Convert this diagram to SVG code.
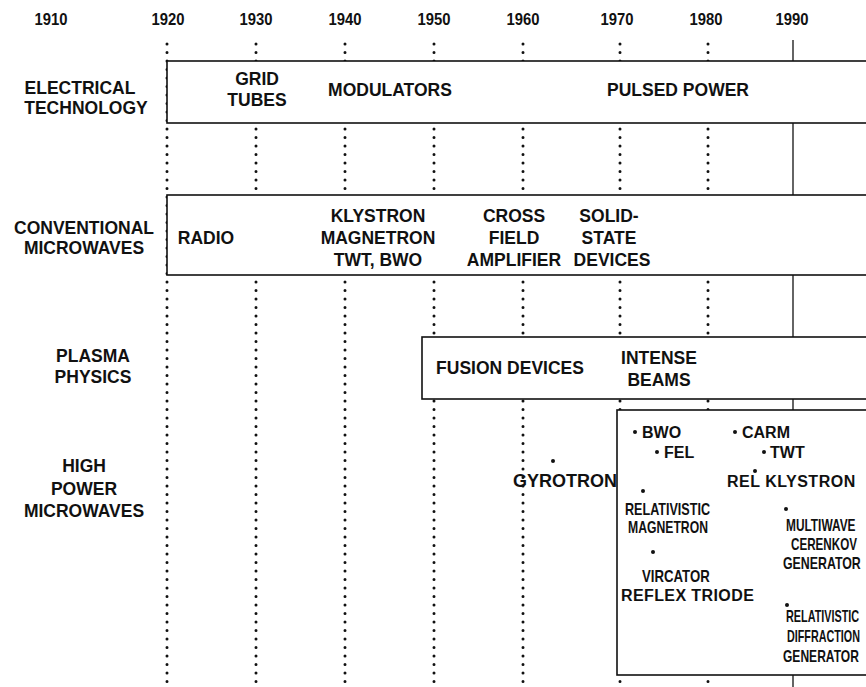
<svg xmlns="http://www.w3.org/2000/svg" width="866" height="687" viewBox="0 0 866 687">
<style>
text{font-family:"Liberation Sans",Arial,sans-serif;font-weight:bold;fill:#111;}
.yr{font-size:17px;text-anchor:middle;}
.lbl{font-size:17.5px;text-anchor:middle;}
.in{font-size:17.5px;text-anchor:middle;}
.hp{font-size:16px;text-anchor:start;}
.hl{font-size:16px;text-anchor:start;}
.dot{stroke:#111;stroke-width:3;stroke-linecap:round;stroke-dasharray:0 8.5;fill:none;}
.solid{stroke:#111;stroke-width:1.3;fill:none;}
.box{fill:#fff;stroke:#111;stroke-width:1.6;}
.b{fill:#111;}
</style>
<rect width="866" height="687" fill="#fff"/>
<g id="axis">
<text class="yr" x="51" y="25" textLength="33" lengthAdjust="spacingAndGlyphs">1910</text>
<text class="yr" x="168" y="25" textLength="33" lengthAdjust="spacingAndGlyphs">1920</text>
<text class="yr" x="256" y="25" textLength="33" lengthAdjust="spacingAndGlyphs">1930</text>
<text class="yr" x="345" y="25" textLength="33" lengthAdjust="spacingAndGlyphs">1940</text>
<text class="yr" x="434" y="25" textLength="33" lengthAdjust="spacingAndGlyphs">1950</text>
<text class="yr" x="523" y="25" textLength="33" lengthAdjust="spacingAndGlyphs">1960</text>
<text class="yr" x="617" y="25" textLength="33" lengthAdjust="spacingAndGlyphs">1970</text>
<text class="yr" x="706" y="25" textLength="33" lengthAdjust="spacingAndGlyphs">1980</text>
<text class="yr" x="792" y="25" textLength="33" lengthAdjust="spacingAndGlyphs">1990</text>
</g>
<g id="connectors">
<line class="dot" x1="167" y1="44" x2="167" y2="687"/>
<line class="dot" x1="256" y1="44" x2="256" y2="687"/>
<line class="dot" x1="345" y1="44" x2="345" y2="687"/>
<line class="dot" x1="434" y1="44" x2="434" y2="687"/>
<line class="dot" x1="523" y1="44" x2="523" y2="687"/>
<line class="dot" x1="620" y1="44" x2="620" y2="687"/>
<line class="dot" x1="708" y1="44" x2="708" y2="687"/>
<line class="solid" x1="793" y1="40" x2="793" y2="687"/>
</g>
<g id="electrical-technology">
<text class="lbl" x="80" y="94">ELECTRICAL</text>
<text class="lbl" x="86" y="114">TECHNOLOGY</text>
<rect class="box" x="167" y="61" width="710" height="62"/>
<text class="in" x="257" y="85">GRID</text>
<text class="in" x="257" y="106">TUBES</text>
<text class="in" x="390" y="96">MODULATORS</text>
<text class="in" x="678" y="96">PULSED POWER</text>
</g>
<g id="conventional-microwaves">
<text class="lbl" x="84" y="234">CONVENTIONAL</text>
<text class="lbl" x="84" y="254">MICROWAVES</text>
<rect class="box" x="167" y="195" width="710" height="80"/>
<text class="in" x="206" y="244">RADIO</text>
<text class="in" x="378" y="222">KLYSTRON</text>
<text class="in" x="378" y="244">MAGNETRON</text>
<text class="in" x="378" y="266">TWT, BWO</text>
<text class="in" x="514" y="222">CROSS</text>
<text class="in" x="514" y="244">FIELD</text>
<text class="in" x="514" y="266">AMPLIFIER</text>
<text class="in" x="609" y="222">SOLID-</text>
<text class="in" x="609" y="244">STATE</text>
<text class="in" x="612" y="266">DEVICES</text>
</g>
<g id="plasma-physics">
<text class="lbl" x="93" y="362">PLASMA</text>
<text class="lbl" x="93" y="383">PHYSICS</text>
<rect class="box" x="422" y="337" width="460" height="62"/>
<text class="in" x="510" y="374">FUSION DEVICES</text>
<text class="in" x="659" y="364">INTENSE</text>
<text class="in" x="659" y="386">BEAMS</text>
</g>
<g id="high-power-microwaves">
<text class="lbl" x="84" y="472">HIGH</text>
<text class="lbl" x="84" y="495">POWER</text>
<text class="lbl" x="84" y="517">MICROWAVES</text>
<circle class="b" cx="553" cy="461" r="2"/>
<text class="in" x="565" y="487" style="font-size:18px">GYROTRON</text>
<rect class="box" x="617" y="410" width="260" height="265"/>
<circle class="b" cx="635" cy="432" r="2"/>
<text class="hl" x="642" y="438">BWO</text>
<circle class="b" cx="735" cy="432" r="2"/>
<text class="hl" x="742" y="438">CARM</text>
<circle class="b" cx="657" cy="452" r="2"/>
<text class="hl" x="664" y="458">FEL</text>
<circle class="b" cx="764" cy="452" r="2"/>
<text class="hl" x="770" y="458">TWT</text>
<circle class="b" cx="755" cy="471" r="2"/>
<text class="hp" x="727" y="487" style="letter-spacing:0.5px">REL KLYSTRON</text>
<circle class="b" cx="643" cy="491" r="2"/>
<text class="hp" transform="translate(625,515) scale(0.787,1)">RELATIVISTIC</text>
<text class="hp" transform="translate(628,533) scale(0.763,1)">MAGNETRON</text>
<circle class="b" cx="786" cy="509" r="2"/>
<text class="hp" transform="translate(786,531) scale(0.743,1)">MULTIWAVE</text>
<text class="hp" transform="translate(791,550) scale(0.728,1)">CERENKOV</text>
<text class="hp" transform="translate(783,569) scale(0.773,1)">GENERATOR</text>
<circle class="b" cx="653" cy="552" r="2"/>
<text class="hp" transform="translate(642,582) scale(0.825,1)">VIRCATOR</text>
<text class="hp" x="621" y="601" style="letter-spacing:0.4px">REFLEX TRIODE</text>
<circle class="b" cx="787" cy="605" r="2"/>
<text class="hp" transform="translate(786,622) scale(0.677,1)">RELATIVISTIC</text>
<text class="hp" transform="translate(787,642) scale(0.673,1)">DIFFRACTION</text>
<text class="hp" transform="translate(783,662) scale(0.753,1)">GENERATOR</text>
</g>
</svg>
